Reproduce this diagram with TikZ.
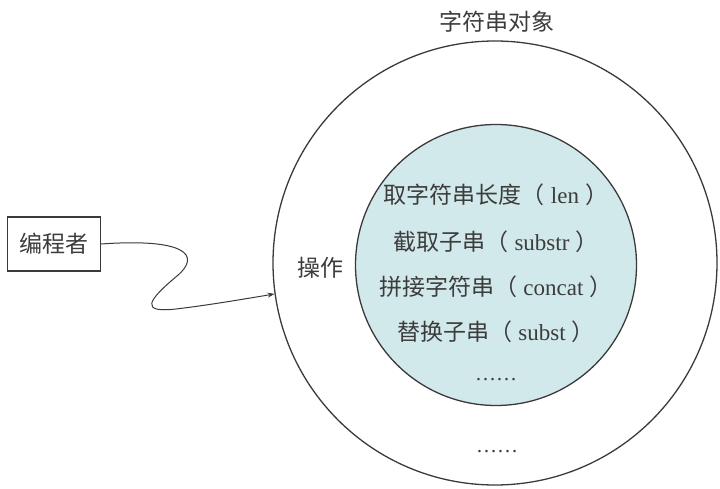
\documentclass[tikz,border=0pt]{standalone}
\usepackage{fontspec}
\setmainfont{Liberation Serif}
\newfontfamily\cjk{Noto Sans CJK SC}
\usetikzlibrary{arrows.meta}
\definecolor{linec}{HTML}{3A3A3A}
\definecolor{txt}{HTML}{3C3C3C}
\definecolor{innerfill}{HTML}{D2E9EB}
\newcommand\latn[1]{\hspace{6pt}{\rmfamily #1}\hspace{6pt}}
\begin{document}
\begin{tikzpicture}[x=1pt,y=-1pt,
  lbl/.style={font=\cjk\fontsize{23}{27}\selectfont, text=txt, inner sep=0pt},
  dots/.style={font=\rmfamily\fontsize{21}{24}\selectfont, text=txt, inner sep=0pt, anchor=base},
  ring/.style={circle, draw=linec, line width=1.3pt, inner sep=0pt},
  boxn/.style={lbl, draw=linec, line width=1.3pt, minimum width=93pt, minimum height=54pt},
  conn/.style={draw=linec, line width=1pt, -{Stealth[length=7pt,width=5pt]}},
]
\useasboundingbox (0,0) rectangle (720,489);
\node[ring, minimum size=444pt] (outer) at (495,263) {};
\node[ring, fill=innerfill, minimum size=281pt] (inner) at (496,265) {};
\node[lbl] (title) at (497,22) {字符串对象};
\node[lbl] (op) at (320,268) {操作};
\node[lbl] (l1) at (496,195) {取字符串长度（\latn{len}）};
\node[lbl] (l2) at (496,242) {截取子串（\latn{substr}）};
\node[lbl] (l3) at (496,287) {拼接字符串（\latn{concat}）};
\node[lbl] (l4) at (496,332) {替换子串（\latn{subst}）};
\node[dots] (d1) at (496,380) {……};
\node[dots] (d2) at (497,452) {……};
\node[boxn] (prog) at (54,244) {编程者};
\draw[conn] (prog.east) .. controls (185,238) and (202,255) .. (177,276)
  .. controls (147,301) and (140,313) .. (176,309)
  .. controls (210,305) and (250,298) .. (outer.188);
\end{tikzpicture}
\end{document}
